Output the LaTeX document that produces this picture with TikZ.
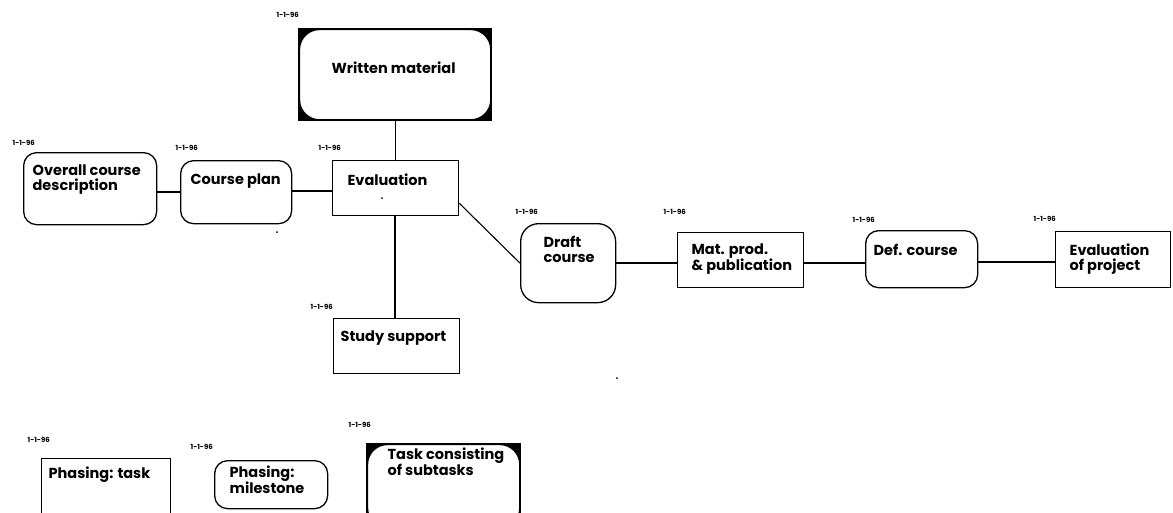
\documentclass[tikz,border=0pt]{standalone}
\usepackage{fontspec}
\setmainfont{Poppins}
\begin{document}
\begin{tikzpicture}[x=1pt,y=-1pt,line width=1.3pt,
  box/.style={draw,rectangle,anchor=north west,inner sep=0pt},
  taskbox/.style={box},
  milebox/.style={box,rounded corners=13pt},
  subbox/.style={box,fill=black},
  inner/.style={draw,fill=white,rounded corners=20pt},
  txt/.style={anchor=north west,inner sep=0pt,align=left,font=\fontsize{14.5}{15}\selectfont\bfseries},
  lbl/.style={anchor=west,inner sep=0pt,font=\fontsize{7}{8}\selectfont\bfseries},
  conn/.style={draw,line width=1.1pt}]
\useasboundingbox[fill=white] (0,0) rectangle (1173,512);
% Written material (task with subtasks)
\node[subbox,minimum width=193pt,minimum height=92pt] (wm) at (298,28) {};
\draw[inner] ([shift={(1.5,1.5)}]wm.north west) rectangle ([shift={(-1.5,-1.5)}]wm.south east);
\node[txt] (wmt) at (331,61) {Written material};
\node[lbl] (wml) at (276,15) {1-1-96};
% Overall course description
\node[milebox,minimum width=133pt,minimum height=72pt] (ocd) at (23,152) {};
\node[txt] (ocdt) at (32,164) {Overall course\\description};
\node[lbl] (ocdl) at (12,143) {1-1-96};
% Course plan
\node[milebox,minimum width=111pt,minimum height=63pt] (cp) at (180,160) {};
\node[txt] (cpt) at (190,173) {Course plan};
\node[lbl] (cpl) at (175,148) {1-1-96};
% Evaluation
\node[taskbox,minimum width=126pt,minimum height=55pt] (ev) at (332,160) {};
\node[txt] (evt) at (347,173) {Evaluation};
\node[lbl] (evl) at (318,148) {1-1-96};
% Study support
\node[taskbox,minimum width=126pt,minimum height=55pt] (ss) at (333,318) {};
\node[txt] (sst) at (340,330) {Study support};
\node[lbl] (ssl) at (310,307) {1-1-96};
% Draft course
\node[milebox,rounded corners=18pt,minimum width=95pt,minimum height=79pt] (dc) at (520,223) {};
\node[txt] (dct) at (543,235) {Draft\\course};
\node[lbl] (dcl) at (515,212) {1-1-96};
% Mat. prod.
\node[taskbox,minimum width=126pt,minimum height=55pt] (mp) at (677,232) {};
\node[txt] (mpt) at (691,243) {Mat. prod.\\\& publication};
\node[lbl] (mpl) at (663,212) {1-1-96};
% Def. course
\node[milebox,minimum width=112pt,minimum height=57pt] (df) at (865,230) {};
\node[txt] (dft) at (873,243) {Def. course};
\node[lbl] (dfl) at (852,220) {1-1-96};
% Evaluation of project
\node[taskbox,minimum width=115pt,minimum height=56pt] (ep) at (1055,231) {};
\node[txt] (ept) at (1069,243) {Evaluation\\of project};
\node[lbl] (epl) at (1033,219) {1-1-96};
% Legend
\node[taskbox,minimum width=129pt,minimum height=70pt] (pt) at (41,458) {};
\node[txt] (ptt) at (48,466) {Phasing: task};
\node[lbl] (ptl) at (27,440) {1-1-96};
\node[milebox,minimum width=113pt,minimum height=48pt] (pm) at (214,460) {};
\node[txt] (pmt) at (229,465) {Phasing:\\milestone};
\node[lbl] (pml) at (190,447) {1-1-96};
\node[subbox,minimum width=154pt,minimum height=85pt] (ts) at (366,443) {};
\draw[inner] ([shift={(1.5,1.5)}]ts.north west) rectangle ([shift={(-1.5,-1.5)}]ts.south east);
\node[txt] (tst) at (387,447) {Task consisting\\of subtasks};
\node[lbl] (tsl) at (348,425) {1-1-96};
% connectors
\draw[conn] (cp.west |- 0,192) coordinate (a1) (a1 -| ocd.east) -- (a1);
\draw[conn] (cp.east |- 0,191) coordinate (a2) -- (a2 -| ev.west);
\draw[conn] (wm.south) -- (wm.south |- ev.north);
\draw[conn] (ev.south -| 395,0) -- (ss.north -| 395,0);
\draw[conn] ([yshift=13pt]ev.south east) -- (dc.west);
\draw[conn] (dc.east |- 0,263) coordinate (a3) -- (a3 -| mp.west);
\draw[conn] (mp.east |- 0,263) coordinate (a4) -- (a4 -| df.west);
\draw[conn] (df.east |- 0,262) coordinate (a5) -- (a5 -| ep.west);
% specks
\fill (382,198) circle (1pt);
\fill (277,232) circle (1pt);
\fill (617,378) circle (1pt);
\end{tikzpicture}
\end{document}
